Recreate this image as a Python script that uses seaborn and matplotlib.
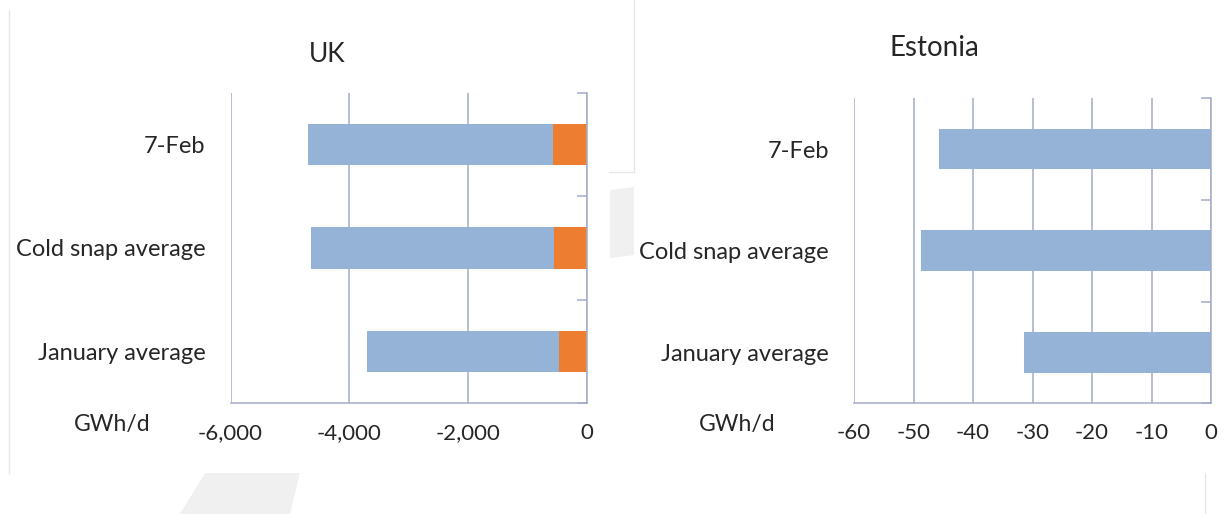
import matplotlib
matplotlib.use("Agg")
import matplotlib.pyplot as plt
from matplotlib.lines import Line2D
from matplotlib.patches import Polygon
import pandas as pd
import seaborn as sns

# Данные (GWh/d)
categories = ["7-Feb", "Cold snap average", "January average"]
uk_blue = [-4119, -4090, -3226]
uk_orange = [-575, -553, -469]
estonia_values = [-45.7, -48.8, -31.4]

uk_ticks = [-6000, -4000, -2000, 0]
est_ticks = [-60, -50, -40, -30, -20, -10, 0]

BLUE = "#95B3D7"
ORANGE = "#ED7D31"
GRID = "#A3ABC6"
TEXT = "#262626"

sns.set_style("white")
plt.rcParams["font.family"] = ["Lato", "DejaVu Sans"]

uk = pd.DataFrame({"cat": categories, "blue": uk_blue, "orange": uk_orange})
uk["total"] = uk["blue"] + uk["orange"]
est = pd.DataFrame({"cat": categories, "value": estonia_values})

W, H = 1224, 514
fig = plt.figure(figsize=(W / 100, H / 100), dpi=100)
ax1 = fig.add_axes([230.5 / W, 1 - 403.3 / H, (586.7 - 230.5) / W, (403.3 - 92.7) / H])
ax2 = fig.add_axes([854 / W, 1 - 403.3 / H, (1211 - 854) / W, (403.3 - 98.3) / H])

# UK: stacked bars (total in blue, orange part on top of it)
sns.barplot(data=uk, x="total", y="cat", orient="h", color=BLUE, width=0.4,
            saturation=1, linewidth=0, ax=ax1)
sns.barplot(data=uk, x="orange", y="cat", orient="h", color=ORANGE, width=0.4,
            saturation=1, linewidth=0, ax=ax1)

# Estonia
sns.barplot(data=est, x="value", y="cat", orient="h", color=BLUE, width=0.4,
            saturation=1, linewidth=0, ax=ax2)


def style(ax, ticks, labels):
    ax.set_xlim(ticks[0], ticks[-1])
    ax.set_xticks(ticks)
    ax.set_xticklabels(labels)
    ax.set_ylim(2.5, -0.5)
    ax.set_xlabel("")
    ax.set_ylabel("")
    ax.grid(axis="x", color=GRID, lw=1.1)
    ax.grid(axis="y", visible=False)
    ax.set_axisbelow(True)
    ax.spines["top"].set_visible(False)
    ax.spines["left"].set_visible(False)
    for s in ("right", "bottom"):
        ax.spines[s].set_color(GRID)
        ax.spines[s].set_linewidth(1.1)
    ax.tick_params(axis="x", length=7, width=1.1, color=GRID, labelsize=16,
                   pad=7, labelcolor=TEXT)
    ax.tick_params(axis="y", which="major", length=0, pad=18, labelsize=17,
                   labelcolor=TEXT)
    ax.set_yticks([-0.5, 0.5, 1.5, 2.5], minor=True)
    ax.tick_params(axis="y", which="minor", left=False, right=True,
                   direction="in", length=7, width=1.1, color=GRID)


style(ax1, uk_ticks, [f"{t:,}" for t in uk_ticks])
style(ax2, est_ticks, [str(t) for t in est_ticks])

fig.text(327 / W, 1 - 54 / H, "UK", ha="center", va="center", fontsize=19, color=TEXT)
fig.text(934 / W, 1 - 48 / H, "Estonia", ha="center", va="center", fontsize=20, color=TEXT)
fig.text(112 / W, 1 - 425 / H, "GWh/d", ha="center", va="center", fontsize=16.5, color=TEXT)
fig.text(737 / W, 1 - 425 / H, "GWh/d", ha="center", va="center", fontsize=16.5, color=TEXT)

# faint slide frame remnants
LIGHT = "#e6e6e6"
def px_line(x0, y0, x1, y1):
    fig.add_artist(Line2D([x0 / W, x1 / W], [1 - y0 / H, 1 - y1 / H],
                          transform=fig.transFigure, color=LIGHT, lw=1))

px_line(9, 10, 9, 473)
px_line(634, 0, 634, 172)
px_line(609, 172, 634, 172)
px_line(1205, 473, 1205, 514)
for pts in ([(180, 514), (290, 514), (300, 473), (205, 473)],
            [(610, 190), (634, 187), (634, 255), (610, 258)]):
    fig.add_artist(Polygon([(x / W, 1 - y / H) for x, y in pts], closed=True,
                           transform=fig.transFigure, facecolor="#f0f0f0",
                           edgecolor="none", zorder=-1))

fig.savefig("out.png", dpi=100)
